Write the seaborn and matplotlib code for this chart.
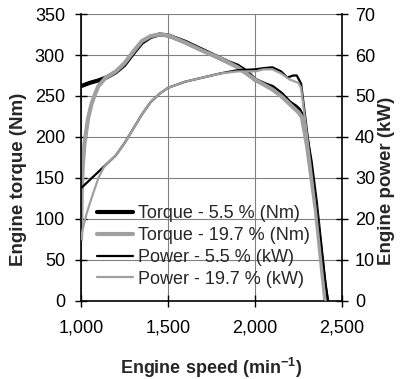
import matplotlib
matplotlib.use("Agg")
import matplotlib.pyplot as plt
import seaborn as sns
import pandas as pd
from matplotlib.ticker import FuncFormatter

# ---- data ----
rpm_t55 = [1000, 1050, 1100, 1150, 1200, 1250, 1300, 1350, 1400, 1450, 1500, 1550, 1600, 1650,
           1700, 1750, 1800, 1850, 1900, 1950, 2000, 2050, 2100, 2150, 2200, 2235, 2255, 2275,
           2300, 2320, 2350, 2400, 2415]
torque_55 = [262, 266, 269, 273, 279, 288, 302, 315, 322, 325, 324, 320, 316, 311,
             306, 301, 296, 291, 287, 280, 270, 265, 261, 253, 242, 237, 233, 224,
             195, 170, 120, 20, 0]

rpm_t197 = [1000, 1004, 1010, 1020, 1040, 1060, 1080, 1100, 1140, 1200, 1250, 1300, 1350, 1400,
            1450, 1500, 1600, 1700, 1800, 1900, 2000, 2050, 2100, 2150, 2200, 2250, 2270,
            2300, 2350, 2400, 2405]
torque_197 = [75, 130, 165, 192, 222, 240, 252, 262, 272, 280, 290, 304, 317, 323,
              325, 324, 315, 305, 296, 285, 270, 264, 258, 250, 240, 230, 224,
              188, 110, 8, 0]

rpm_p55 = [1000, 1050, 1100, 1150, 1200, 1250, 1300, 1350, 1400, 1450, 1500, 1600, 1700, 1800,
           1900, 2000, 2050, 2100, 2150, 2185, 2220, 2240, 2265, 2300, 2350, 2400, 2418]
power_55 = [27.5, 29.5, 31.5, 33.5, 35.5, 38.5, 42, 45.5, 48.5, 50.5, 52, 53.5, 54.5, 55.5,
            56.3, 56.5, 56.8, 57, 56, 54.5, 55, 55, 53, 41, 24, 6, 0]

rpm_p197 = [1000, 1010, 1030, 1060, 1100, 1130, 1150, 1200, 1250, 1300, 1350, 1400, 1450, 1500,
            1600, 1700, 1800, 1900, 2000, 2050, 2100, 2150, 2200, 2250, 2265, 2300, 2350,
            2400, 2405]
power_197 = [15, 17.5, 21, 25, 30, 32.5, 33.5, 35.5, 38.5, 42, 45.5, 48.5, 50.5, 52,
             53.5, 54.5, 55.5, 56, 56, 56.5, 56.5, 55.5, 54, 53.2, 52, 40, 22,
             2, 0]

labels = ["Torque - 5.5 % (Nm)", "Torque - 19.7 % (Nm)",
          "Power - 5.5 % (kW)", "Power - 19.7 % (kW)"]
x_ticks = [1000, 1500, 2000, 2500]
y_ticks = [0, 50, 100, 150, 200, 250, 300, 350]
y2_ticks = [0, 10, 20, 30, 40, 50, 60, 70]

sns.set_style("white")
plt.rcParams["font.family"] = ["Liberation Sans", "DejaVu Sans"]
plt.rcParams["mathtext.fontset"] = "custom"
plt.rcParams["mathtext.rm"] = "Liberation Sans:bold"
plt.rcParams["mathtext.default"] = "rm"

BLACK = "#000000"
GRAY = "#a0a0a0"
GRID = "#808080"
FS = 13
YLFS = 13.5

fig = plt.figure(figsize=(4.0, 3.79), dpi=100)
ax = fig.add_axes([0.2025, 0.206, 0.6525, 0.757])
ax2 = ax.twinx()

df_t55 = pd.DataFrame({"rpm": rpm_t55, "val": torque_55})
df_t197 = pd.DataFrame({"rpm": rpm_t197, "val": torque_197})
df_p55 = pd.DataFrame({"rpm": rpm_p55, "val": power_55})
df_p197 = pd.DataFrame({"rpm": rpm_p197, "val": power_197})

sns.lineplot(data=df_t55, x="rpm", y="val", ax=ax, color=BLACK, linewidth=3.0,
             estimator=None, sort=False, label=labels[0], legend=False)
sns.lineplot(data=df_t197, x="rpm", y="val", ax=ax, color=GRAY, linewidth=3.0,
             estimator=None, sort=False, label=labels[1], legend=False)
sns.lineplot(data=df_p55, x="rpm", y="val", ax=ax2, color=BLACK, linewidth=1.6,
             estimator=None, sort=False, label=labels[2], legend=False)
sns.lineplot(data=df_p197, x="rpm", y="val", ax=ax2, color=GRAY, linewidth=1.6,
             estimator=None, sort=False, label=labels[3], legend=False)

ax.set_xlim(1000, 2500)
ax.set_ylim(0, 350)
ax2.set_ylim(0, 70)
ax.set_xticks(x_ticks)
ax.set_yticks(y_ticks)
ax2.set_yticks(y2_ticks)
ax.xaxis.set_major_formatter(FuncFormatter(lambda v, p: f"{int(v):,}"))

ax.grid(True, color=GRID, linewidth=0.8)
ax2.grid(False)
ax.set_axisbelow(True)

for a in (ax, ax2):
    a.spines["top"].set_visible(False)
    for s in a.spines.values():
        s.set_color("black")
        s.set_linewidth(1.2)
ax.spines["right"].set_visible(False)
ax2.spines["left"].set_visible(False)
ax2.spines["bottom"].set_visible(False)
ax2.spines["right"].set_visible(True)

ax.tick_params(axis="x", direction="inout", length=8, width=1.0, colors="black",
               labelsize=FS, bottom=True, pad=9.5)
ax.tick_params(axis="y", direction="inout", length=8, width=1.0, colors="black",
               labelsize=FS, left=True, pad=7.5)
ax2.tick_params(axis="y", direction="inout", length=8, width=1.0, colors="black",
                labelsize=FS, right=True, pad=5.3)

ax.set_xlabel("Engine speed (min$^{-1}$)", fontsize=FS, fontweight="bold", labelpad=14)
ax.set_ylabel("Engine torque (Nm)", fontsize=YLFS, fontweight="bold")
ax2.set_ylabel("Engine power (kW)", fontsize=YLFS, fontweight="bold", rotation=90)
ax.yaxis.set_label_coords(-0.207, 0.425)
ax2.yaxis.set_label_coords(1.138, 0.42)

h1, l1 = ax.get_legend_handles_labels()
h2, l2 = ax2.get_legend_handles_labels()
leg = ax2.legend(h1 + h2, l1 + l2, loc="center left", bbox_to_anchor=(0.2425, 0.3496),
                 bbox_transform=fig.transFigure, frameon=False, fontsize=FS,
                 handlelength=2.0, handletextpad=0.28, labelspacing=0.27,
                 borderpad=0, borderaxespad=0)

fig.savefig("out.png", dpi=100)
